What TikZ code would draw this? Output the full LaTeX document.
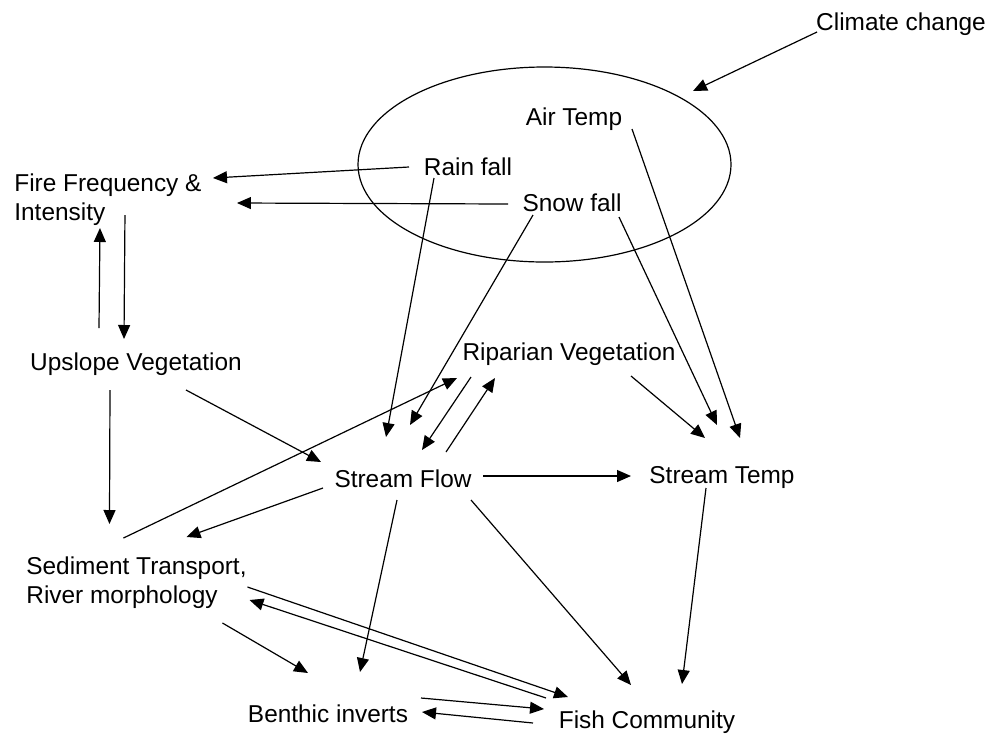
\documentclass[tikz,border=0pt]{standalone}
\usepackage{fontspec}
\setmainfont{Liberation Sans}
\usetikzlibrary{arrows.meta,shapes.geometric}

\begin{document}
\begin{tikzpicture}[x=0.5pt,y=-0.5pt,
  lbl/.style={inner sep=0pt, font=\fontsize{12.2}{14.5}\selectfont, text height=11pt, text depth=2.5pt},
  lbltwo/.style={inner sep=0pt, font=\fontsize{12.2}{14.5}\selectfont, align=left, anchor=west},
  arr/.style={-{Triangle[length=7pt,width=6pt]}, line width=0.6pt}]
  \useasboundingbox (0,0) rectangle (994,740);
  \node[draw, ellipse, line width=0.6pt, minimum width=186.5pt, minimum height=97.5pt] (cloud) at (544.5,164.5) {};
  \node[lbl] (climate) at (901,22) {Climate change};
  \node[lbl] (air) at (574,117) {Air Temp};
  \node[lbl] (rain) at (468,167) {Rain fall};
  \node[lbl] (snow) at (572,203) {Snow fall};
  \node[lbltwo] (fire) at (14,199.5) {Fire Frequency \&\\Intensity};
  \node[lbl] (upslope) at (136,362) {Upslope Vegetation};
  \node[lbl] (riparian) at (569,352) {Riparian Vegetation};
  \node[lbl] (flow) at (403,479) {Stream Flow};
  \node[lbl] (temp) at (722,475) {Stream Temp};
  \node[lbltwo] (sediment) at (26,583) {Sediment Transport,\\River morphology};
  \node[lbl] (benthic) at (328,714) {Benthic inverts};
  \node[lbl] (fish) at (647,720) {Fish Community};

  \draw[arr] ([shift={(-84,10)}]climate.center) -- ([shift={(148.5,-73.5)}]cloud.center);
  \draw[arr] ([shift={(-59,0)}]rain.center) -- ([shift={(105,-21.5)}]fire.center);
  \draw[arr] ([shift={(-64,1)}]snow.center) -- ([shift={(129,3.5)}]fire.center);
  \draw[arr] ([shift={(17,15.5)}]fire.center) -- ([shift={(-12,-23)}]upslope.center);
  \draw[arr] ([shift={(-37,-34)}]upslope.center) -- ([shift={(-8,28.5)}]fire.center);
  \draw[arr] ([shift={(-34,11)}]rain.center) -- ([shift={(-17,-42)}]flow.center);
  \draw[arr] ([shift={(-39,12)}]snow.center) -- ([shift={(7,-54)}]flow.center);
  \draw[arr] ([shift={(47,14)}]snow.center) -- ([shift={(-5,-50)}]temp.center);
  \draw[arr] ([shift={(58,12)}]air.center) -- ([shift={(18,-37)}]temp.center);
  \draw[arr] ([shift={(62,24)}]riparian.center) -- ([shift={(-17,-37)}]temp.center);
  \draw[arr] ([shift={(43,-27)}]flow.center) -- ([shift={(-74,26)}]riparian.center);
  \draw[arr] ([shift={(-98,25)}]riparian.center) -- ([shift={(19,-29)}]flow.center);
  \draw[arr] ([shift={(-13,-45)}]sediment.center) -- ([shift={(-112,26)}]riparian.center);
  \draw[arr] ([shift={(-80,9)}]flow.center) -- ([shift={(50,-46)}]sediment.center);
  \draw[arr] ([shift={(50,28)}]upslope.center) -- ([shift={(-82,-17)}]flow.center);
  \draw[arr] ([shift={(-26,28)}]upslope.center) -- ([shift={(-27,-59)}]sediment.center);
  \draw[arr] ([shift={(80,-3)}]flow.center) -- ([shift={(-91,1)}]temp.center);
  \draw[arr] ([shift={(-6,21)}]flow.center) -- ([shift={(32,-42)}]benthic.center);
  \draw[arr] ([shift={(68,21)}]flow.center) -- ([shift={(-16,-35)}]fish.center);
  \draw[arr] ([shift={(-16,13)}]temp.center) -- ([shift={(35,-36)}]fish.center);
  \draw[arr] ([shift={(86,40)}]sediment.center) -- ([shift={(-20,-41)}]benthic.center);
  \draw[arr] ([shift={(111,4)}]sediment.center) -- ([shift={(-79,-23)}]fish.center);
  \draw[arr] ([shift={(-101,-22)}]fish.center) -- ([shift={(113,17)}]sediment.center);
  \draw[arr] ([shift={(93,-16)}]benthic.center) -- ([shift={(-103,-11)}]fish.center);
  \draw[arr] ([shift={(-114,3)}]fish.center) -- ([shift={(94,-2)}]benthic.center);
\end{tikzpicture}
\end{document}
